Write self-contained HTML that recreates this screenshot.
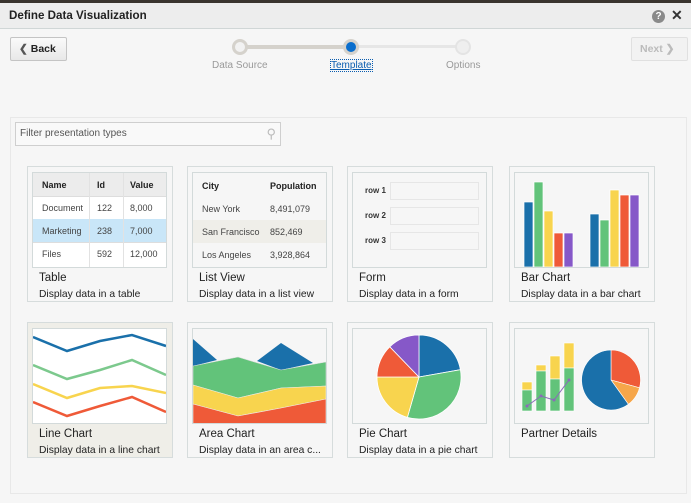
<!DOCTYPE html>
<html><head><meta charset="utf-8"><style>
*{box-sizing:border-box;margin:0;padding:0}
body{width:691px;height:503px;overflow:hidden;background:#f6f6f6;font-family:"Liberation Sans",sans-serif;position:relative;color:#333}
.a{position:absolute}
.card{position:absolute;width:146px;height:136px;border:1px solid #d6dcdc;background:#f6f6f6}
.img{position:absolute;left:4px;top:5px;width:135px;height:96px;border:1px solid #d3dada;background:#fff}
.t{position:absolute;left:11px;top:105px;font-size:11.5px;color:#222}
.d{position:absolute;left:11px;top:122px;font-size:10.3px;color:#222;white-space:nowrap}
</style></head><body>
<div class="a" style="left:0;top:0;width:691px;height:3px;background:#3a342e"></div>
<div class="a" style="left:0;top:3px;width:691px;height:26px;background:#ededed;border-bottom:1px solid #d0d6d6"></div>
<div class="a" style="left:9px;top:9px;font-size:11.6px;font-weight:bold;color:#222">Define Data Visualization</div>
<div class="a" style="left:652px;top:10px;width:13px;height:13px;border-radius:50%;background:#8a8a8a;color:#fff;font-size:10px;font-weight:bold;text-align:center;line-height:13px">?</div>
<div class="a" style="left:671px;top:7px;font-size:14px;font-weight:bold;color:#333">✕</div>
<div class="a" style="left:10px;top:37px;width:57px;height:24px;border:1px solid #c4c4c4;border-radius:2px;background:linear-gradient(#fafafa,#e8e8e8);font-size:10.5px;font-weight:bold;line-height:22px;padding-left:8px;color:#222"><span style="color:#555">❮</span> Back</div>
<div class="a" style="left:631px;top:37px;width:57px;height:24px;border:1px solid #e0e0e0;border-radius:2px;background:#f2f2f2;font-size:10.5px;font-weight:bold;line-height:22px;padding-left:8px;color:#bbb">Next ❯</div>
<div class="a" style="left:240px;top:45px;width:112px;height:4px;background:#d5d2cc"></div>
<div class="a" style="left:352px;top:45px;width:112px;height:3px;background:#e6e6e6"></div>
<div class="a" style="left:232px;top:39px;width:16px;height:16px;border-radius:50%;background:#f2f2f2;border:3px solid #d5d2cc"></div>
<div class="a" style="left:343px;top:39px;width:16px;height:16px;border-radius:50%;background:#0a6ecd;border:3px solid #d5d2cc"></div>
<div class="a" style="left:455px;top:39px;width:16px;height:16px;border-radius:50%;background:#efefef;border:2px solid #e4e4e4"></div>
<div class="a" style="left:212px;top:60px;font-size:10px;color:#999">Data Source</div>
<div class="a" style="left:331px;top:60px;font-size:10px;color:#0a5db0;text-decoration:underline;outline:1px dotted #0a5db0">Template</div>
<div class="a" style="left:446px;top:60px;font-size:10px;color:#999">Options</div>
<div class="a" style="left:10px;top:117px;width:677px;height:377px;border:1px solid #e8e8e8;background:#f6f6f6"></div>
<div class="a" style="left:15px;top:122px;width:266px;height:24px;border:1px solid #cfcfcf;background:#f9f9f9;font-size:10px;color:#555;line-height:22px;padding-left:4px">Filter presentation types<span style="position:absolute;right:4px;top:0;color:#bbb;font-size:13px">⚲</span></div>

<!-- Table -->
<div class="card" style="left:27px;top:166px"><div class="img" style="font-size:9px;color:#444">
<div class="a" style="left:0;top:0;width:133px;height:23px;background:#ececec"></div>
<div class="a" style="left:0;top:46px;width:133px;height:23px;background:#c9e6f8"></div>
<div class="a" style="left:0;top:23px;width:133px;height:1px;background:#ddd"></div>
<div class="a" style="left:0;top:69px;width:133px;height:1px;background:#ddd"></div>
<div class="a" style="left:56px;top:0;width:1px;height:94px;background:#e2e2e2"></div>
<div class="a" style="left:90px;top:0;width:1px;height:94px;background:#e2e2e2"></div>
<b class="a" style="left:9px;top:7px;color:#222">Name</b><b class="a" style="left:64px;top:7px;color:#222">Id</b><b class="a" style="left:97px;top:7px;color:#222">Value</b>
<span class="a" style="left:9px;top:30px">Document</span><span class="a" style="left:64px;top:30px">122</span><span class="a" style="left:97px;top:30px">8,000</span>
<span class="a" style="left:9px;top:53px">Marketing</span><span class="a" style="left:64px;top:53px">238</span><span class="a" style="left:97px;top:53px">7,000</span>
<span class="a" style="left:9px;top:76px">Files</span><span class="a" style="left:64px;top:76px">592</span><span class="a" style="left:97px;top:76px">12,000</span>
</div><div class="t">Table</div><div class="d">Display data in a table</div></div>

<!-- List -->
<div class="card" style="left:187px;top:166px"><div class="img" style="font-size:9px;color:#444;background:#f6f6f6">
<div class="a" style="left:0;top:47px;width:133px;height:23px;background:#efeee9"></div>
<b class="a" style="left:9px;top:8px;color:#222">City</b><b class="a" style="left:77px;top:8px;color:#222">Population</b>
<span class="a" style="left:9px;top:31px">New York</span><span class="a" style="left:77px;top:31px">8,491,079</span>
<span class="a" style="left:9px;top:54px">San Francisco</span><span class="a" style="left:77px;top:54px">852,469</span>
<span class="a" style="left:9px;top:77px">Los Angeles</span><span class="a" style="left:77px;top:77px">3,928,864</span>
</div><div class="t">List View</div><div class="d">Display data in a list view</div></div>

<!-- Form -->
<div class="card" style="left:347px;top:166px"><div class="img" style="font-size:8px;font-weight:bold;color:#333;background:#f6f6f6">
<span class="a" style="left:12px;top:13px">row 1</span><span class="a" style="left:12px;top:38px">row 2</span><span class="a" style="left:12px;top:63px">row 3</span>
<div class="a" style="left:37px;top:9px;width:89px;height:18px;border:1px solid #e6e6e6"></div>
<div class="a" style="left:37px;top:34px;width:89px;height:18px;border:1px solid #e6e6e6"></div>
<div class="a" style="left:37px;top:59px;width:89px;height:18px;border:1px solid #e6e6e6"></div>
</div><div class="t">Form</div><div class="d">Display data in a form</div></div>

<!-- Bar -->
<div class="card" style="left:509px;top:166px"><div class="img" style="background:#f6f6f6">
<svg width="133" height="94" class="a" style="left:0;top:0">
<g stroke="#fff" stroke-width="0.7">
<rect x="9" y="29" width="9" height="65" fill="#1a70aa"/><rect x="19" y="9" width="9" height="85" fill="#62c37a"/><rect x="29" y="38" width="9" height="56" fill="#f8d44e"/><rect x="39" y="60" width="9" height="34" fill="#ef5a38"/><rect x="49" y="60" width="9" height="34" fill="#8658c8"/>
<rect x="75" y="41" width="9" height="53" fill="#1a70aa"/><rect x="85" y="47" width="9" height="47" fill="#62c37a"/><rect x="95" y="17" width="9" height="77" fill="#f8d44e"/><rect x="105" y="22" width="9" height="72" fill="#ef5a38"/><rect x="115" y="22" width="9" height="72" fill="#8658c8"/>
</g></svg>
</div><div class="t">Bar Chart</div><div class="d">Display data in a bar chart</div></div>

<!-- Line -->
<div class="card" style="left:27px;top:322px;background:#efeee8"><div class="img">
<svg width="133" height="94" class="a" style="left:0;top:0" fill="none" stroke-width="2.5">
<polyline points="0,8 34,22 67,12 99,6 133,17" stroke="#1a70aa"/>
<polyline points="0,36 34,50 67,41 99,31 133,46" stroke="#7cc98d"/>
<polyline points="0,55 34,69 67,59 99,57 133,64" stroke="#f8d44e"/>
<polyline points="0,73 34,87 67,77 99,68 133,83" stroke="#ef5a38"/>
</svg></div><div class="t">Line Chart</div><div class="d">Display data in a line chart</div></div>

<!-- Area -->
<div class="card" style="left:187px;top:322px"><div class="img" style="background:#f6f6f6">
<svg width="133" height="94" class="a" style="left:0;top:0">
<polygon points="0,10 24,31 0,37" fill="#1a70aa"/>
<polygon points="64,32 88,14 120,34 88,41" fill="#1a70aa"/>
<polygon points="0,37 45,28 88,41 133,33 133,57 88,59 45,69 0,56" fill="#62c37a" stroke="#ddd" stroke-width="0.6"/>
<polygon points="0,56 45,69 88,59 133,57 133,70 88,79 45,87 0,75" fill="#f8d44e" stroke="#eee" stroke-width="0.6"/>
<polygon points="0,75 45,87 88,79 133,70 133,95 0,95" fill="#ef5a38" stroke="#eee" stroke-width="0.6"/>
</svg></div><div class="t">Area Chart</div><div class="d">Display data in an area c...</div></div>

<!-- Pie -->
<div class="card" style="left:347px;top:322px"><div class="img" style="background:#f6f6f6">
<svg width="133" height="94" class="a" style="left:0;top:0" stroke="#fff" stroke-width="0.8">
<path d="M66,48 L66,6 A42,42 0 0 1 107.4,40.7 Z" fill="#1a70aa"/>
<path d="M66,48 L107.4,40.7 A42,42 0 0 1 54.4,88.4 Z" fill="#62c37a"/>
<path d="M66,48 L54.4,88.4 A42,42 0 0 1 24,48 Z" fill="#f8d44e"/>
<path d="M66,48 L24,48 A42,42 0 0 1 36.8,17.8 Z" fill="#ef5a38"/>
<path d="M66,48 L36.8,17.8 A42,42 0 0 1 66,6 Z" fill="#8658c8"/>
</svg></div><div class="t">Pie Chart</div><div class="d">Display data in a pie chart</div></div>

<!-- Partner -->
<div class="card" style="left:509px;top:322px"><div class="img" style="background:#f6f6f6">
<svg width="133" height="94" class="a" style="left:0;top:0" stroke="#fff" stroke-width="0.6">
<rect x="7" y="53" width="10" height="8" fill="#f8d44e"/><rect x="7" y="61" width="10" height="21" fill="#62c37a"/>
<rect x="21" y="36" width="10" height="6" fill="#f8d44e"/><rect x="21" y="42" width="10" height="40" fill="#62c37a"/>
<rect x="35" y="27" width="10" height="23" fill="#f8d44e"/><rect x="35" y="50" width="10" height="32" fill="#62c37a"/>
<rect x="49" y="14" width="10" height="25" fill="#f8d44e"/><rect x="49" y="39" width="10" height="43" fill="#62c37a"/>
<polyline points="12,77 26,67 39,71 54,51" fill="none" stroke="#8a6cb8" stroke-width="1"/>
<g fill="#8a6cb8" stroke="none"><circle cx="12" cy="77" r="1.5"/><circle cx="26" cy="67" r="1.5"/><circle cx="39" cy="71" r="1.5"/><circle cx="54" cy="51" r="1.5"/></g>
<path d="M96,51 L96,21 A29.5,30 0 0 1 124.5,58.8 Z" fill="#ef5a38"/>
<path d="M96,51 L124.5,58.8 A29.5,30 0 0 1 113.4,75.3 Z" fill="#f6a64a"/>
<path d="M96,51 L113.4,75.3 A29.5,30 0 1 1 96,21 Z" fill="#1a70aa"/>
</svg></div><div class="t">Partner Details</div></div>
</body></html>
